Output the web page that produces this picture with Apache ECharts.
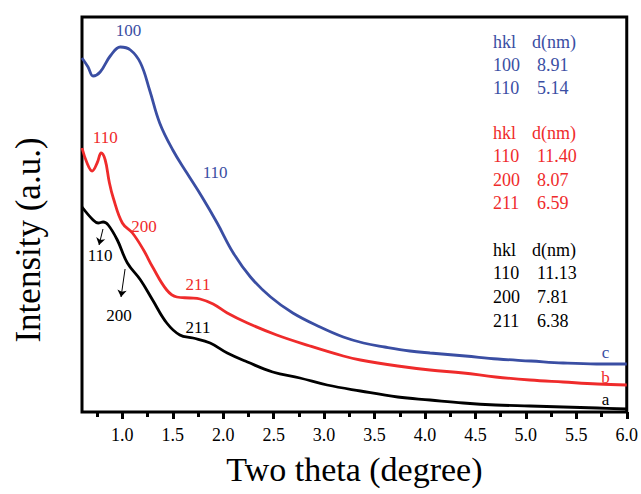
<!DOCTYPE html>
<html>
<head>
<meta charset="utf-8">
<script src="https://cdn.jsdelivr.net/npm/echarts@6/dist/echarts.min.js"></script>
<style>
  html, body { margin: 0; padding: 0; background: #fff; }
  #chart { width: 641px; height: 494px; }
</style>
</head>
<body>
<div id="chart"></div>
<script>
// 2theta (degree) and intensity (a.u.)
var thetaC = [0.60, 0.66, 0.71, 0.78, 0.88, 0.98, 1.08, 1.18, 1.27, 1.37, 1.50, 1.64, 1.79, 1.94, 2.10, 2.27, 2.47, 2.69, 2.96, 3.19, 3.39, 3.60, 3.85, 4.05, 4.40, 4.72, 5.05, 5.37, 5.70, 6.00]
var intC = [354, 345, 336, 340, 356, 365, 362, 349, 322, 289, 262, 239, 215, 189, 159, 135, 115, 99, 85, 75, 69, 65, 61, 59, 56, 53, 51, 49, 48, 48]

var thetaB = [0.60, 0.65, 0.70, 0.75, 0.79, 0.83, 0.87, 0.91, 1.00, 1.10, 1.21, 1.30, 1.44, 1.54, 1.67, 1.77, 1.90, 2.04, 2.24, 2.53, 2.86, 3.19, 3.36, 3.73, 4.05, 4.38, 4.70, 5.04, 5.37, 5.71, 6.00]
var intB = [264, 249, 241, 249, 259, 252, 230, 214, 189, 179, 162, 145, 122, 115, 114, 113, 108, 99, 89, 77, 66, 56, 52, 46, 42, 39, 35, 32, 30, 28, 27]

var thetaA = [0.60, 0.71, 0.76, 0.81, 0.86, 0.95, 1.05, 1.18, 1.30, 1.44, 1.57, 1.70, 1.87, 2.04, 2.24, 2.49, 2.76, 3.03, 3.36, 3.73, 4.05, 4.38, 4.70, 5.04, 5.37, 5.71, 6.00]
var intA = [205, 192, 189, 190, 187, 172, 149, 132, 112, 89, 77, 74, 69, 59, 50, 40, 34, 27, 21, 15, 12, 9, 7, 6, 5, 4, 3]

var majorTicks = [1.0, 1.5, 2.0, 2.5, 3.0, 3.5, 4.0, 4.5, 5.0, 5.5, 6.0]
var minorTicks = [0.75, 1.25, 1.75, 2.25, 2.75, 3.25, 3.75, 4.25, 4.75, 5.25, 5.75]

// peak labels [theta, intensity, text]
var peaksC = [[1.06, 382, '100'], [1.92, 240, '110'], [5.79, 60, 'c']]
var peaksB = [[0.83, 275, '110'], [1.215, 186, '200'], [1.75, 128, '211'], [5.79, 35, 'b']]
var peaksA = [[0.78, 157, '110'], [0.967, 97, '200'], [1.75, 85, '211'], [5.79, 13, 'a']]
var arrowsA = [[[0.808, 183], [0.769, 167]], [[1.027, 143], [0.987, 115]]]

// hkl / d(nm) tables
var tableC = [['hkl', 'd(nm)'], ['100', '8.91'], ['110', '5.14']]
var tableB = [['hkl', 'd(nm)'], ['110', '11.40'], ['200', '8.07'], ['211', '6.59']]
var tableA = [['hkl', 'd(nm)'], ['110', '11.13'], ['200', '7.81'], ['211', '6.38']]

var serif = 'Liberation Serif'
var BLUE = '#3a4ea3'
var RED = '#ef2b2b'
var BLACK = '#000000'

function zip(xs, ys) {
  return xs.map(function (x, i) { return [x, ys[i]] })
}

function peakMarks(list, color) {
  return {
    symbol: 'circle',
    symbolSize: 1,
    silent: true,
    itemStyle: { color: 'rgba(0,0,0,0)' },
    label: {
      show: true,
      position: 'inside',
      color: color,
      fontFamily: serif,
      fontSize: 17,
      formatter: function (p) { return p.name }
    },
    data: list.map(function (p) { return { name: p[2], coord: [p[0], p[1]] } })
  }
}

function makeSeries(name, xs, ys, color, peaks) {
  return {
    name: name,
    type: 'line',
    data: zip(xs, ys),
    showSymbol: false,
    smooth: 0.4,
    lineStyle: { color: color, width: 2.8 },
    itemStyle: { color: color },
    markPoint: peakMarks(peaks, color)
  }
}

var graphics = [{
  type: 'text',
  x: 28,
  y: 240,
  rotation: Math.PI / 2,
  style: {
    text: 'Intensity (a.u.)',
    fill: '#000',
    fontFamily: serif,
    fontSize: 35,
    align: 'center',
    verticalAlign: 'middle'
  }
}]

function addTable(rows, color, rowY) {
  rows.forEach(function (r, i) {
    graphics.push({
      type: 'text', x: 493, y: rowY[i],
      style: { text: r[0], fill: color, fontFamily: serif, fontSize: 18, verticalAlign: 'middle' }
    })
    graphics.push({
      type: 'text', x: i === 0 ? 532 : 537, y: rowY[i],
      style: { text: r[1], fill: color, fontFamily: serif, fontSize: 18, verticalAlign: 'middle' }
    })
  })
}
addTable(tableC, BLUE, [42, 65, 88])
addTable(tableB, RED, [133, 156, 180, 203])
addTable(tableA, BLACK, [250, 273, 297, 321])

var seriesA = makeSeries('a', thetaA, intA, BLACK, peaksA)
seriesA.markLine = {
  silent: true,
  symbol: ['none', 'arrow'],
  symbolSize: 7,
  label: { show: false },
  lineStyle: { color: BLACK, width: 1, type: 'solid' },
  data: arrowsA.map(function (a) {
    return [{ coord: a[0] }, { coord: a[1] }]
  })
}

var option = {
  animation: false,
  backgroundColor: '#fff',
  grid: {
    left: 82, right: 14, top: 17, bottom: 82,
    show: true,
    borderColor: '#000',
    borderWidth: 3
  },
  xAxis: [{
    type: 'value',
    min: 0.6,
    max: 6.0,
    name: 'Two theta (degree)',
    nameLocation: 'middle',
    nameGap: 40,
    nameTextStyle: { fontFamily: serif, fontSize: 34, color: '#000' },
    axisLine: { show: false },
    axisTick: {
      show: true,
      customValues: majorTicks,
      length: 7,
      lineStyle: { color: '#000', width: 3 }
    },
    axisLabel: {
      customValues: majorTicks,
      formatter: function (v) { return v.toFixed(1) },
      fontFamily: serif,
      fontSize: 18,
      color: '#000',
      margin: 14
    },
    splitLine: { show: false }
  }, {
    type: 'value',
    min: 0.6,
    max: 6.0,
    position: 'bottom',
    axisLine: { show: false },
    axisTick: {
      show: true,
      customValues: minorTicks,
      length: 5,
      lineStyle: { color: '#000', width: 3 }
    },
    axisLabel: { show: false },
    splitLine: { show: false }
  }],
  yAxis: {
    type: 'value',
    min: 0,
    max: 395,
    axisLine: { show: false },
    axisTick: { show: false },
    axisLabel: { show: false },
    splitLine: { show: false }
  },
  series: [
    seriesA,
    makeSeries('b', thetaB, intB, RED, peaksB),
    makeSeries('c', thetaC, intC, BLUE, peaksC)
  ],
  graphic: graphics
}

var chart = echarts.init(document.getElementById('chart'), null, { renderer: 'svg' })
chart.setOption(option)
</script>
</body>
</html>
